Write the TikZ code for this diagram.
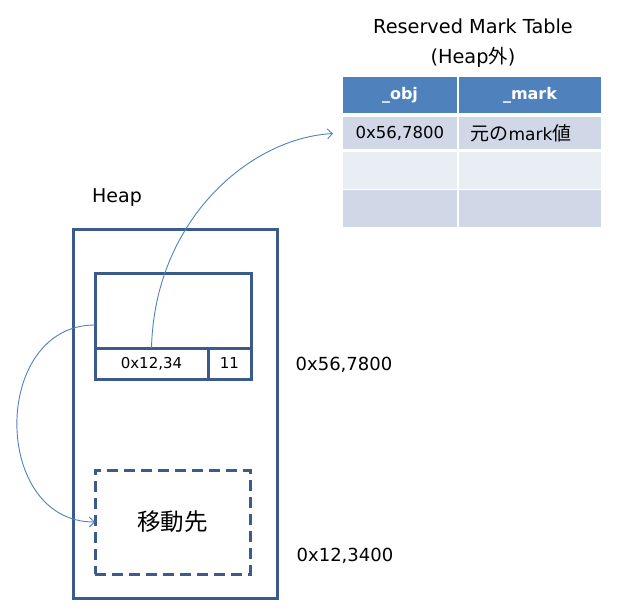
\documentclass[tikz,border=0pt]{standalone}
\usepackage{fontspec}
\setmainfont{DejaVu Sans}
\newfontfamily\cjk{Noto Sans CJK JP}
\usetikzlibrary{arrows.meta,calc}
\definecolor{heapblue}{RGB}{59,91,140}
\definecolor{linkblue}{RGB}{79,129,189}
\definecolor{rowdark}{RGB}{208,216,232}
\definecolor{rowlight}{RGB}{233,237,244}

\begin{document}
\begin{tikzpicture}[x=1pt,y=-1pt,
    box/.style={draw=heapblue,line width=3pt,inner sep=0pt,outer sep=0pt},
    cell/.style={inner sep=0pt,outer sep=0pt,fill=rowdark},
    link/.style={draw=linkblue,line width=0.9pt,-{Straight Barb[length=5pt,width=10pt]}},
    lbl/.style={font=\fontsize{18}{22}\selectfont}]
  \useasboundingbox (0,0) rectangle (622,616);
  % table outside the heap
  \node[align=center,font=\fontsize{19.3}{30}\selectfont] (title) at (473,43.5) {Reserved Mark Table\\(Heap{\cjk 外})};
  \node[cell,fill=linkblue,minimum width=114pt,minimum height=36pt,text=white,font=\fontsize{16}{19}\selectfont\bfseries] (h1) at (400,95) {\_obj};
  \node[cell,fill=linkblue,minimum width=142pt,minimum height=36pt,text=white,font=\fontsize{16}{19}\selectfont\bfseries] (h2) at (530,95) {\_mark};
  \node[cell,minimum width=114pt,minimum height=32pt] (r1a) at (400,133) {};
  \node[cell,minimum width=142pt,minimum height=32pt] (r1b) at (530,133) {};
  \node[cell,fill=rowlight,minimum width=114pt,minimum height=37pt] (r2a) at (400,170) {};
  \node[cell,fill=rowlight,minimum width=142pt,minimum height=37pt] (r2b) at (530,170) {};
  \node[cell,minimum width=114pt,minimum height=37pt] (r3a) at (400,208.5) {};
  \node[cell,minimum width=142pt,minimum height=37pt] (r3b) at (530,208.5) {};
  \node[anchor=west,font=\fontsize{16.5}{19}\selectfont] at ($(r1a.west)+(9,0)$) {0x56,7800};
  \node[anchor=west,font=\fontsize{17}{19}\selectfont] at ($(r1b.west)+(8,0)$) {{\cjk\fontsize{19}{19}\selectfont 元の}mark{\cjk\fontsize{19}{19}\selectfont 値}};

  % heap
  \node[font=\fontsize{19}{22}\selectfont] (heaplbl) at (117,198) {Heap};
  \node[box,minimum width=204pt,minimum height=369pt] (heap) at (175,413.5) {};
  \node[box,minimum width=156pt,minimum height=75pt] (hdr) at (173,310.5) {};
  \node[box,minimum width=113pt,minimum height=31pt,font=\fontsize{15}{18}\selectfont] (ptr) at (151.5,363.5) {0x12,34};
  \node[box,minimum width=43pt,minimum height=31pt,font=\fontsize{15}{18}\selectfont] (bits) at (229.5,363.5) {11};
  \node[box,dash pattern=on 11pt off 6pt,minimum width=155pt,minimum height=104pt,font=\cjk\fontsize{23.5}{26}\selectfont] (dst) at (172.5,522) {移動先};
  \node[lbl] (addrobj) at (344,365) {0x56,7800};
  \node[lbl] (addrdst) at (345,556) {0x12,3400};

  % links
  \draw[link,shorten >=10pt] (ptr.north) .. controls +(3,-128) and +(-93,5) .. (r1a.west);
  \draw[link] ([yshift=-14.5pt]hdr.west) .. controls +(-104,0) and +(-104,0) .. (dst.west);
\end{tikzpicture}
\end{document}
